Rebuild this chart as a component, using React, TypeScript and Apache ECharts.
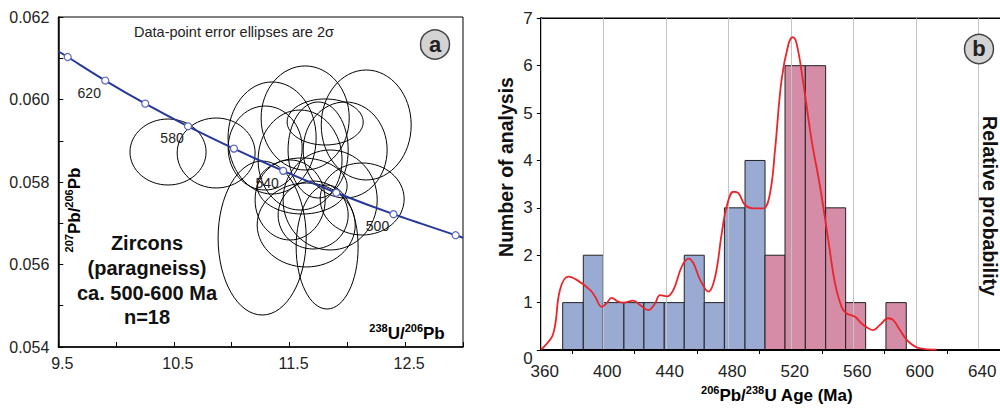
import React, { useEffect, useRef } from 'react';
import * as echarts from 'echarts';

// ---- Panel a: concordia (238U/206Pb vs 207Pb/206Pb) ----
const concordiaX = [9.5, 9.581, 9.906, 10.252, 10.622, 11.019, 11.445, 11.904, 12.399, 12.936, 13.0];
const concordiaY = [0.06117, 0.06103, 0.06046, 0.0599, 0.05935, 0.05881, 0.05827, 0.05774, 0.05722, 0.05671, 0.05665];
const concordiaAges = ['', '640', '620', '600', '580', '560', '540', '520', '500', '480', ''];
const labeledAges = ['620', '580', '540', '500'];

// error ellipses: centre x, centre y, half-width (x), half-height (y)
const ellipseCX = [10.449, 10.865, 11.263, 11.825, 12.128, 12.163, 11.635, 11.808, 11.349, 11.289, 11.609, 11.704, 11.644, 11.851, 11.591, 11.747, 11.505, 11.981];
const ellipseCY = [0.058727, 0.058703, 0.056642, 0.056424, 0.057588, 0.059382, 0.059552, 0.059455, 0.059067, 0.058824, 0.057903, 0.0572, 0.056958, 0.057564, 0.058533, 0.058776, 0.057564, 0.058776];
const ellipseRX = [0.329, 0.337, 0.381, 0.268, 0.363, 0.389, 0.381, 0.329, 0.381, 0.32, 0.389, 0.303, 0.424, 0.407, 0.363, 0.26, 0.303, 0.363];
const ellipseRY = [0.0008, 0.000848, 0.001867, 0.001503, 0.000873, 0.001333, 0.001261, 0.000558, 0.001358, 0.001018, 0.000679, 0.000824, 0.001018, 0.001212, 0.001212, 0.001164, 0.00097, 0.001164];

// ---- Panel b: histogram + probability curve ----
const binEdges = [374.0, 387.2, 400.0, 413.2, 426.0, 439.0, 451.8, 464.6, 477.5, 490.7, 503.5, 516.3, 529.3, 542.3, 555.1, 567.9, 580.9, 593.9];
const blueCounts = [1, 2, 1, 1, 1, 1, 2, 1, 3, 4];
const pinkCounts = [2, 6, 6, 3, 1, 0, 1];

const probAge = [360, 361.6, 368, 372.3, 377.6, 383, 391.5, 394.7, 399, 402, 405.3, 409.6, 412.8, 419.2, 423.5, 428.8, 433.1, 436.3, 440.6, 444.9, 450.2, 454.5, 457.7, 462, 467.3, 471.6, 475.8, 479, 483.3, 486.5, 490.7, 496, 502.4, 506.7, 509.9, 514.1, 518.4, 521.2, 523.7, 528, 533.3, 538.7, 544, 548.3, 552.5, 555.7, 561.1, 565.3, 569.6, 572.8, 577, 582.4, 585.6, 589.9, 595.2, 602.7, 613.4];
const probValue = [0.02, 0.05, 0.35, 1.27, 1.55, 1.48, 1.27, 1.13, 0.91, 0.98, 1.1, 1.02, 1.0, 1.04, 0.95, 0.84, 0.98, 1.16, 1.13, 1.27, 1.76, 1.93, 1.83, 1.48, 1.23, 1.55, 2.46, 3.03, 3.34, 3.31, 3.06, 2.99, 2.99, 3.31, 4.22, 5.7, 6.44, 6.6, 6.47, 5.63, 4.43, 3.45, 2.32, 1.41, 0.91, 0.77, 0.7, 0.56, 0.46, 0.42, 0.53, 0.67, 0.63, 0.42, 0.18, 0.035, 0.01];

const FONT = "'Liberation Sans', Arial, sans-serif";
const BLUE_BAR = '#9aabd3';
const PINK_BAR = '#d58ca6';

export default function App() {
  const ref = useRef<HTMLDivElement>(null);

  useEffect(() => {
    if (!ref.current) return;
    const chart = echarts.init(ref.current, null, { renderer: 'svg' });

    const concData = concordiaX.map((x, i) => {
      const age = concordiaAges[i];
      const item: any = { value: [x, concordiaY[i]] };
      if (!age) item.symbol = 'none';
      if (labeledAges.includes(age)) {
        item.label = {
          show: true,
          formatter: age,
          position: 'inside',
          offset: [-16, 12],
          fontSize: 14,
          color: '#222',
          fontFamily: FONT,
        };
      }
      return item;
    });

    const ellipseData = ellipseCX.map((cx, i) => [cx, ellipseCY[i], ellipseRX[i], ellipseRY[i]]);

    const nBlue = blueCounts.length;
    const histData = [...blueCounts, ...pinkCounts].map((c, i) => [binEdges[i], binEdges[i + 1], c, i < nBlue ? 0 : 1]);

    const supRich = {
      b: { fontSize: 17, fontWeight: 'bold', fontFamily: FONT, color: '#111', lineHeight: 21 },
      sup: { fontSize: 11, fontWeight: 'bold', fontFamily: FONT, color: '#111', verticalAlign: 'top', lineHeight: 12 },
    };

    const option: any = {
      animation: false,
      grid: [
        { left: 58.3, top: 17, width: 404.7, height: 330, show: true, borderColor: '#000', borderWidth: 1, backgroundColor: 'transparent' },
        { left: 540.8, top: 18.3, width: 500, height: 331.7, show: true, borderColor: '#000', borderWidth: 1.5, backgroundColor: 'transparent' },
      ],
      xAxis: [
        {
          gridIndex: 0, type: 'value', min: 9.5, max: 13, interval: 0.5,
          axisLine: { lineStyle: { color: '#000', width: 1.5 } },
          axisTick: { inside: true, length: 5, lineStyle: { color: '#000' } },
          splitLine: { show: false },
          axisLabel: {
            fontSize: 16, color: '#222', fontFamily: FONT, margin: 8, padding: [0, 0, 0, 8],
            formatter: (v: number) => {
              const k = Math.round((v - 9.5) * 2);
              return k % 2 === 0 && v < 12.9 ? v.toFixed(1) : '';
            },
          },
        },
        {
          gridIndex: 1, type: 'value', min: 360, max: 680, interval: 40, z: 3,
          axisLine: { lineStyle: { color: '#000', width: 2 } },
          axisTick: { show: false },
          minorTick: { show: true, splitNumber: 2, length: 4, lineStyle: { color: '#000', width: 1 } },
          splitLine: { show: true, lineStyle: { color: '#c4c4c4', width: 1 } },
          axisLabel: {
            fontSize: 17, color: '#222', fontFamily: FONT, margin: 13, padding: [0, 0, 0, 8],
            formatter: (v: number) => (v < 670 ? String(v) : ''),
          },
        },
      ],
      yAxis: [
        {
          gridIndex: 0, type: 'value', min: 0.054, max: 0.062, interval: 0.001,
          axisLine: { lineStyle: { color: '#000', width: 1.5 } },
          axisTick: { inside: true, length: 5, lineStyle: { color: '#000' } },
          splitLine: { show: false },
          axisLabel: {
            fontSize: 16, color: '#222', fontFamily: FONT, margin: 9,
            formatter: (v: number) => (Math.round(v * 1000) % 2 === 0 ? v.toFixed(3) : ''),
          },
        },
        {
          gridIndex: 1, type: 'value', min: 0, max: 7, interval: 1,
          axisLine: { lineStyle: { color: '#000', width: 2 } },
          axisTick: { length: 4, lineStyle: { color: '#000' } },
          splitLine: { show: false },
          axisLabel: {
            fontSize: 17, color: '#222', fontFamily: FONT, margin: 8,
            formatter: (v: number) => (v === 0 ? '{z|0}' : String(v)),
            rich: { z: { fontSize: 17, color: '#222', fontFamily: FONT, padding: [16, 0, 0, 0] } },
          },
        },
      ],
      series: [
        {
          type: 'custom', xAxisIndex: 0, yAxisIndex: 0, z: 2,
          data: ellipseData,
          encode: { x: 0, y: 1 },
          renderItem: (params: any, api: any) => {
            const c = api.coord([api.value(0), api.value(1)]);
            const s = api.size([api.value(2), api.value(3)]);
            return {
              type: 'ellipse',
              shape: { cx: c[0], cy: c[1], rx: s[0], ry: s[1] },
              style: { fill: 'none', stroke: '#000', lineWidth: 1 },
            };
          },
        },
        {
          type: 'line', xAxisIndex: 0, yAxisIndex: 0, z: 4,
          data: concData,
          smooth: 0.3,
          symbol: 'circle', symbolSize: 7, showSymbol: true,
          lineStyle: { color: '#25389a', width: 2 },
          itemStyle: { color: '#ffffff', borderColor: '#5866c4', borderWidth: 1.2 },
        },
        {
          type: 'custom', xAxisIndex: 1, yAxisIndex: 1, z: 2,
          data: histData,
          encode: { x: [0, 1], y: 2 },
          renderItem: (params: any, api: any) => {
            const c = api.value(2);
            if (!c) return null;
            const p0 = api.coord([api.value(0), c]);
            const p1 = api.coord([api.value(1), 0]);
            return {
              type: 'rect',
              shape: { x: p0[0], y: p0[1], width: p1[0] - p0[0], height: p1[1] - p0[1] },
              style: { fill: api.value(3) ? PINK_BAR : BLUE_BAR, stroke: '#222', lineWidth: 1 },
            };
          },
        },
        {
          type: 'line', xAxisIndex: 1, yAxisIndex: 1, z: 5,
          data: probAge.map((a, i) => [a, probValue[i]]),
          smooth: 0.4, showSymbol: false, symbol: 'none',
          lineStyle: { color: '#e8262b', width: 1.8 },
        },
      ],
      graphic: [
        { type: 'text', x: 234, y: 32, style: { text: 'Data-point error ellipses are 2σ', fontSize: 14.5, fontFamily: FONT, fill: '#222', align: 'center', verticalAlign: 'middle' } },
        { type: 'circle', shape: { cx: 435, cy: 44.5, r: 14.5 }, style: { fill: '#d3d3d3', stroke: '#444', lineWidth: 1.5 }, z: 10 },
        { type: 'text', x: 435, y: 44, z: 11, style: { text: 'a', fontSize: 22, fontWeight: 'bold', fontFamily: FONT, fill: '#222', align: 'center', verticalAlign: 'middle' } },
        { type: 'text', x: 147, y: 243, style: { text: 'Zircons', fontSize: 20, fontWeight: 'bold', fontFamily: FONT, fill: '#111', align: 'center', verticalAlign: 'middle' } },
        { type: 'text', x: 147, y: 268, style: { text: '(paragneiss)', fontSize: 20, fontWeight: 'bold', fontFamily: FONT, fill: '#111', align: 'center', verticalAlign: 'middle' } },
        { type: 'text', x: 147, y: 293, style: { text: 'ca. 500-600 Ma', fontSize: 20, fontWeight: 'bold', fontFamily: FONT, fill: '#111', align: 'center', verticalAlign: 'middle' } },
        { type: 'text', x: 147, y: 317, style: { text: 'n=18', fontSize: 20, fontWeight: 'bold', fontFamily: FONT, fill: '#111', align: 'center', verticalAlign: 'middle' } },
        { type: 'text', x: 407, y: 333, style: { text: '{sup|238}{b|U/}{sup|206}{b|Pb}', rich: supRich, align: 'center', verticalAlign: 'middle' } },
        { type: 'text', x: 74, y: 210, rotation: Math.PI / 2, style: { text: '{sup|207}{b|Pb/}{sup|206}{b|Pb}', rich: supRich, align: 'center', verticalAlign: 'middle' } },
        { type: 'text', x: 506, y: 167, rotation: Math.PI / 2, style: { text: 'Number of analysis', fontSize: 19.5, fontWeight: 'bold', fontFamily: FONT, fill: '#111', align: 'center', verticalAlign: 'middle' } },
        { type: 'text', x: 990, y: 206, rotation: -Math.PI / 2, style: { text: 'Relative probability', fontSize: 19.5, fontWeight: 'bold', fontFamily: FONT, fill: '#111', align: 'center', verticalAlign: 'middle' } },
        { type: 'text', x: 777, y: 395, style: { text: '{sup|206}{b|Pb/}{sup|238}{b|U Age (Ma)}', rich: supRich, align: 'center', verticalAlign: 'middle' } },
        { type: 'circle', shape: { cx: 979, cy: 49, r: 14.5 }, style: { fill: '#d3d3d3', stroke: '#444', lineWidth: 1.5 }, z: 10 },
        { type: 'text', x: 979, y: 48.5, z: 11, style: { text: 'b', fontSize: 22, fontWeight: 'bold', fontFamily: FONT, fill: '#222', align: 'center', verticalAlign: 'middle' } },
      ],
    };

    chart.setOption(option);
    return () => chart.dispose();
  }, []);

  return (
    <div style={{ position: 'fixed', left: 0, top: 0, width: 1000, height: 408, overflow: 'hidden', background: '#fff' }}>
      <div ref={ref} style={{ width: 1050, height: 408 }} />
    </div>
  );
}
